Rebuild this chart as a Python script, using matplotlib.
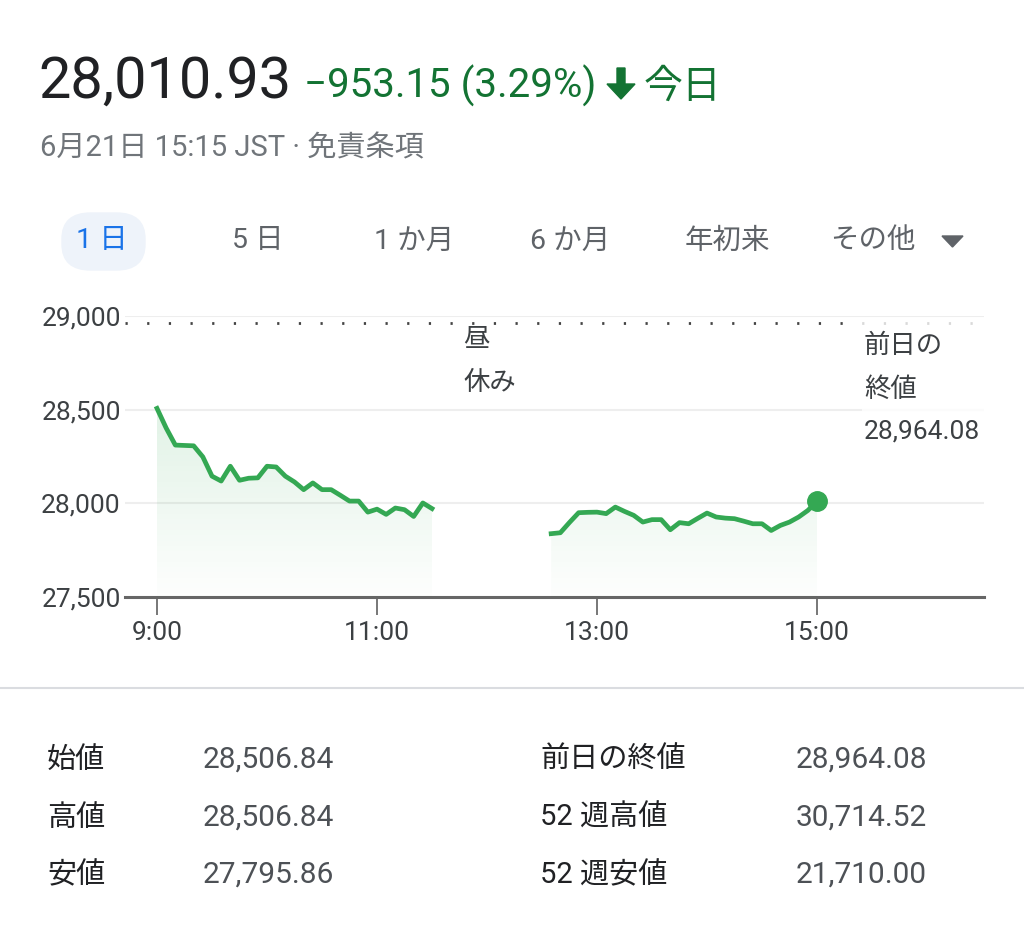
import numpy as np
import matplotlib
matplotlib.use("Agg")
import matplotlib.pyplot as plt
from matplotlib.patches import Polygon, FancyBboxPatch, Rectangle

# --- data (5-minute points) ---
am_start, pm_start = "09:00", "12:35"
am_values = [28506.84, 28402, 28311, 28309, 28307, 28248, 28145, 28119, 28198, 28123,
             28134, 28136, 28198, 28194, 28145, 28114, 28073, 28109, 28073, 28073,
             28043, 28012, 28012, 27953, 27969, 27941, 27975, 27966, 27930, 28002, 27972]
pm_values = [27838, 27843, 27898, 27950, 27952, 27953, 27945, 27980, 27957, 27936,
             27900, 27913, 27913, 27859, 27897, 27891, 27920, 27948, 27927, 27921,
             27918, 27905, 27891, 27891, 27855, 27882, 27900, 27927, 27962, 28010.93]
prev_close = 28964.08

x_ticks = [9, 11, 13, 15]
x_labels = ["9:00", "11:00", "13:00", "15:00"]
y_ticks = [27500, 28000, 28500, 29000]
y_labels = ["27,500", "28,000", "28,500", "29,000"]

tabs = ["1 日", "5 日", "1 か月", "6 か月", "年初来", "その他"]
stat_left = [("始値", "28,506.84"), ("高値", "28,506.84"), ("安値", "27,795.86")]
stat_right = [("前日の終値", "28,964.08"), ("52 週高値", "30,714.52"), ("52 週安値", "21,710.00")]

plt.rcParams['font.family'] = ['Roboto', 'Noto Sans CJK JP', 'DejaVu Sans']

W, H = 1024, 927
fig = plt.figure(figsize=(W / 100, H / 100), dpi=100)


def fx(px):
    return px / W


def fy(py):
    return 1 - py / H


def hours(start, n):
    h, m = map(int, start.split(":"))
    return h + m / 60 + np.arange(n) * 5 / 60


GREEN = "#34a853"

# --- header ---
fig.text(fx(38), fy(98), "28,010.93", fontsize=41.5, color="#202124", va="baseline")
fig.text(fx(304), fy(98), "\u2212953.15 (3.29%)", fontsize=29, color="#137333", va="baseline")
arrow = [(617, 68), (625, 68), (625, 84), (635, 84), (621, 99), (607, 84), (617, 84)]
fig.patches.append(Polygon([(fx(a), fy(b)) for a, b in arrow], closed=True,
                           transform=fig.transFigure, color="#137333"))
fig.text(fx(644), fy(98), "今日", fontsize=28, color="#137333", va="baseline")
fig.text(fx(40), fy(148), "6月21日 15:15 JST · 免責条項", fontsize=21, color="#70757a", va="center")

# --- range tabs ---
fig.patches.append(FancyBboxPatch((fx(62), fy(270)), fx(83), 57 / H,
                                  boxstyle="round,pad=0,rounding_size=0.028",
                                  transform=fig.transFigure, color="#eef3fa", zorder=0))
tab_x = [102, 258, 414, 570, 727, 873]
for i, (t, x) in enumerate(zip(tabs, tab_x)):
    fig.text(fx(x), fy(241), t, fontsize=20.5, ha="center", va="center",
             color="#1a73e8" if i == 0 else "#5f6368")
tri = [(942, 236), (963, 236), (952.5, 247)]
fig.patches.append(Polygon([(fx(a), fy(b)) for a, b in tri], closed=True,
                           transform=fig.transFigure, color="#5f6368"))

# --- chart ---
ax = fig.add_axes([fx(125), fy(597), fx(984 - 125), (597 - 316) / H])
ax.set_xlim(9 - 32 / 110, 15 + 167 / 110)
ax.set_ylim(27500, 29000)

for yv in y_ticks[1:]:
    ax.axhline(yv, color="#eeeeee", lw=1.5, zorder=1)
ax.axhline(prev_close, color="#444444", lw=2, ls=(0, (0.8, 7)), zorder=2)

grad = np.zeros((100, 2, 4))
grad[..., :3] = np.array([52, 168, 83]) / 255
grad[..., 3] = np.linspace(0.15, 0.01, 100)[:, None]

for start, vals in [(am_start, am_values), (pm_start, pm_values)]:
    xs = hours(start, len(vals))
    ys = np.array(vals)
    ax.plot(xs, ys, color=GREEN, lw=3.4, solid_joinstyle="round", zorder=4)
    poly = Polygon(np.column_stack([np.r_[xs, xs[-1], xs[0]], np.r_[ys, 27500, 27500]]),
                   closed=True, facecolor="none", edgecolor="none")
    ax.add_patch(poly)
    im = ax.imshow(grad, extent=[xs[0], xs[-1], 27500, 28520], aspect="auto",
                   origin="upper", zorder=3)
    im.set_clip_path(poly)

ax.plot(hours(pm_start, len(pm_values))[-1], pm_values[-1], "o", color=GREEN, ms=14, zorder=5)
ax.set_xlim(9 - 32 / 110, 15 + 167 / 110)
ax.set_ylim(27500, 29000)

for s in ["top", "right", "left"]:
    ax.spines[s].set_visible(False)
ax.spines["bottom"].set_color("#666666")
ax.spines["bottom"].set_linewidth(2.2)
ax.set_xticks(x_ticks, x_labels)
ax.set_yticks(y_ticks, y_labels)
ax.tick_params(axis="x", length=13, width=1.4, color="#777777", labelsize=19,
               labelcolor="#3c4043", pad=4)
ax.tick_params(axis="y", length=0, labelsize=19, labelcolor="#3c4043", pad=3)
ax.patch.set_alpha(0)

# lunch break / previous close labels
fig.text(fx(463), fy(340), "昼", fontsize=19, color="#3c4043", va="center")
fig.text(fx(463), fy(383), "休み", fontsize=19, color="#3c4043", va="center")
fig.patches.append(Rectangle((fx(862), fy(452)), fx(124), 130 / H, transform=fig.transFigure,
                             facecolor="white", alpha=0.8, edgecolor="none", zorder=5))
fig.text(fx(864), fy(346), "前日の", fontsize=19, color="#3c4043", va="center", zorder=6)
fig.text(fx(864), fy(390), "終値", fontsize=19, color="#3c4043", va="center", zorder=6)
fig.text(fx(864), fy(431), f"{prev_close:,.2f}", fontsize=19, color="#3c4043", va="center", zorder=6)

# separator
fig.add_artist(plt.Line2D([0, 1], [fy(688), fy(688)], color="#dadce0", lw=1.5))

# --- stats table ---
row_y = [760, 818, 875]
for (lab, val), y in zip(stat_left, row_y):
    fig.text(fx(47), fy(y), lab, fontsize=21, color="#202124", va="center")
    fig.text(fx(203), fy(y), val, fontsize=21.5, color="#4d5156", va="center")
for (lab, val), y in zip(stat_right, row_y):
    fig.text(fx(540), fy(y), lab, fontsize=21, color="#202124", va="center")
    fig.text(fx(796), fy(y), val, fontsize=21.5, color="#4d5156", va="center")

fig.savefig("out.png", dpi=100, facecolor="white")
